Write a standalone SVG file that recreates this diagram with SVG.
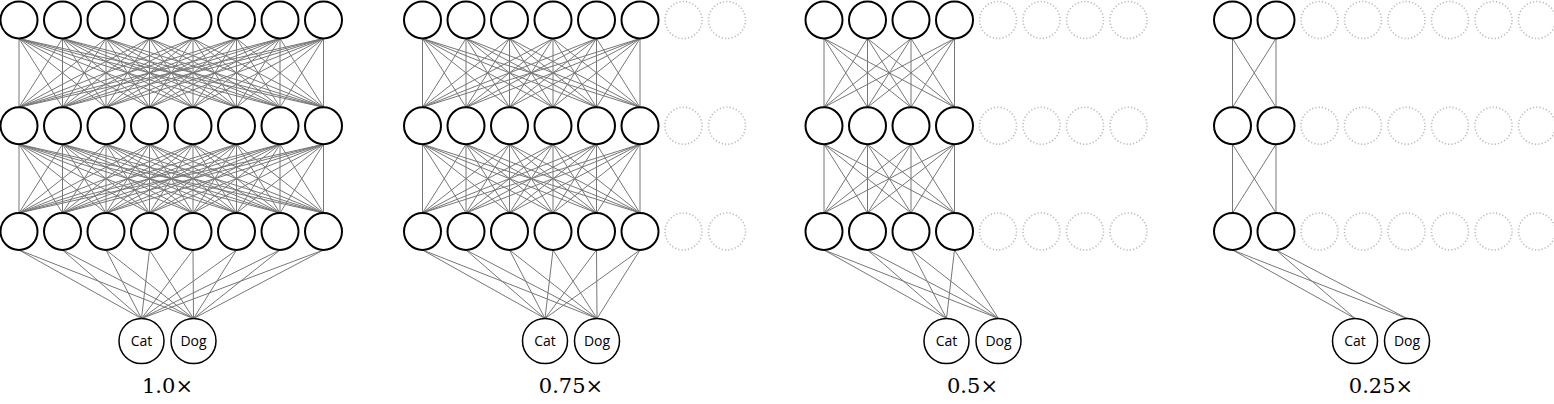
<svg xmlns="http://www.w3.org/2000/svg" xmlns:xlink="http://www.w3.org/1999/xlink" width="1554" height="404" viewBox="0 0 1554 404">
<style>
.n{fill:#fff;stroke:#000;stroke-width:2}
.o{fill:#fff;stroke:#000;stroke-width:1.5}
.d{fill:none;stroke:#bbb;stroke-width:1.6;stroke-dasharray:1.2 2.1}
line{stroke:#777;stroke-width:1}
.t{font-family:"Open Sans","Liberation Sans",sans-serif;font-size:14px;text-anchor:middle;fill:#000}
.l{font-family:"DejaVu Serif","Liberation Serif",serif;font-size:21px;text-anchor:middle;fill:#000}
</style>
<defs>
<g id="b1" stroke="#777" stroke-width="1">
<line x1="19" y1="38.5" x2="19" y2="107.25"/><line x1="19" y1="38.5" x2="62.5" y2="107.25"/><line x1="19" y1="38.5" x2="106" y2="107.25"/><line x1="19" y1="38.5" x2="149.5" y2="107.25"/><line x1="19" y1="38.5" x2="193" y2="107.25"/><line x1="19" y1="38.5" x2="236.5" y2="107.25"/><line x1="19" y1="38.5" x2="280" y2="107.25"/><line x1="19" y1="38.5" x2="323.5" y2="107.25"/>
<line x1="62.5" y1="38.5" x2="19" y2="107.25"/><line x1="62.5" y1="38.5" x2="62.5" y2="107.25"/><line x1="62.5" y1="38.5" x2="106" y2="107.25"/><line x1="62.5" y1="38.5" x2="149.5" y2="107.25"/><line x1="62.5" y1="38.5" x2="193" y2="107.25"/><line x1="62.5" y1="38.5" x2="236.5" y2="107.25"/><line x1="62.5" y1="38.5" x2="280" y2="107.25"/><line x1="62.5" y1="38.5" x2="323.5" y2="107.25"/>
<line x1="106" y1="38.5" x2="19" y2="107.25"/><line x1="106" y1="38.5" x2="62.5" y2="107.25"/><line x1="106" y1="38.5" x2="106" y2="107.25"/><line x1="106" y1="38.5" x2="149.5" y2="107.25"/><line x1="106" y1="38.5" x2="193" y2="107.25"/><line x1="106" y1="38.5" x2="236.5" y2="107.25"/><line x1="106" y1="38.5" x2="280" y2="107.25"/><line x1="106" y1="38.5" x2="323.5" y2="107.25"/>
<line x1="149.5" y1="38.5" x2="19" y2="107.25"/><line x1="149.5" y1="38.5" x2="62.5" y2="107.25"/><line x1="149.5" y1="38.5" x2="106" y2="107.25"/><line x1="149.5" y1="38.5" x2="149.5" y2="107.25"/><line x1="149.5" y1="38.5" x2="193" y2="107.25"/><line x1="149.5" y1="38.5" x2="236.5" y2="107.25"/><line x1="149.5" y1="38.5" x2="280" y2="107.25"/><line x1="149.5" y1="38.5" x2="323.5" y2="107.25"/>
<line x1="193" y1="38.5" x2="19" y2="107.25"/><line x1="193" y1="38.5" x2="62.5" y2="107.25"/><line x1="193" y1="38.5" x2="106" y2="107.25"/><line x1="193" y1="38.5" x2="149.5" y2="107.25"/><line x1="193" y1="38.5" x2="193" y2="107.25"/><line x1="193" y1="38.5" x2="236.5" y2="107.25"/><line x1="193" y1="38.5" x2="280" y2="107.25"/><line x1="193" y1="38.5" x2="323.5" y2="107.25"/>
<line x1="236.5" y1="38.5" x2="19" y2="107.25"/><line x1="236.5" y1="38.5" x2="62.5" y2="107.25"/><line x1="236.5" y1="38.5" x2="106" y2="107.25"/><line x1="236.5" y1="38.5" x2="149.5" y2="107.25"/><line x1="236.5" y1="38.5" x2="193" y2="107.25"/><line x1="236.5" y1="38.5" x2="236.5" y2="107.25"/><line x1="236.5" y1="38.5" x2="280" y2="107.25"/><line x1="236.5" y1="38.5" x2="323.5" y2="107.25"/>
<line x1="280" y1="38.5" x2="19" y2="107.25"/><line x1="280" y1="38.5" x2="62.5" y2="107.25"/><line x1="280" y1="38.5" x2="106" y2="107.25"/><line x1="280" y1="38.5" x2="149.5" y2="107.25"/><line x1="280" y1="38.5" x2="193" y2="107.25"/><line x1="280" y1="38.5" x2="236.5" y2="107.25"/><line x1="280" y1="38.5" x2="280" y2="107.25"/><line x1="280" y1="38.5" x2="323.5" y2="107.25"/>
<line x1="323.5" y1="38.5" x2="19" y2="107.25"/><line x1="323.5" y1="38.5" x2="62.5" y2="107.25"/><line x1="323.5" y1="38.5" x2="106" y2="107.25"/><line x1="323.5" y1="38.5" x2="149.5" y2="107.25"/><line x1="323.5" y1="38.5" x2="193" y2="107.25"/><line x1="323.5" y1="38.5" x2="236.5" y2="107.25"/><line x1="323.5" y1="38.5" x2="280" y2="107.25"/><line x1="323.5" y1="38.5" x2="323.5" y2="107.25"/>
</g>
<g id="b2" stroke="#777" stroke-width="1">
<line x1="422.5" y1="38.5" x2="422.5" y2="107.25"/><line x1="422.5" y1="38.5" x2="466" y2="107.25"/><line x1="422.5" y1="38.5" x2="509.5" y2="107.25"/><line x1="422.5" y1="38.5" x2="553" y2="107.25"/><line x1="422.5" y1="38.5" x2="596.5" y2="107.25"/><line x1="422.5" y1="38.5" x2="640" y2="107.25"/>
<line x1="466" y1="38.5" x2="422.5" y2="107.25"/><line x1="466" y1="38.5" x2="466" y2="107.25"/><line x1="466" y1="38.5" x2="509.5" y2="107.25"/><line x1="466" y1="38.5" x2="553" y2="107.25"/><line x1="466" y1="38.5" x2="596.5" y2="107.25"/><line x1="466" y1="38.5" x2="640" y2="107.25"/>
<line x1="509.5" y1="38.5" x2="422.5" y2="107.25"/><line x1="509.5" y1="38.5" x2="466" y2="107.25"/><line x1="509.5" y1="38.5" x2="509.5" y2="107.25"/><line x1="509.5" y1="38.5" x2="553" y2="107.25"/><line x1="509.5" y1="38.5" x2="596.5" y2="107.25"/><line x1="509.5" y1="38.5" x2="640" y2="107.25"/>
<line x1="553" y1="38.5" x2="422.5" y2="107.25"/><line x1="553" y1="38.5" x2="466" y2="107.25"/><line x1="553" y1="38.5" x2="509.5" y2="107.25"/><line x1="553" y1="38.5" x2="553" y2="107.25"/><line x1="553" y1="38.5" x2="596.5" y2="107.25"/><line x1="553" y1="38.5" x2="640" y2="107.25"/>
<line x1="596.5" y1="38.5" x2="422.5" y2="107.25"/><line x1="596.5" y1="38.5" x2="466" y2="107.25"/><line x1="596.5" y1="38.5" x2="509.5" y2="107.25"/><line x1="596.5" y1="38.5" x2="553" y2="107.25"/><line x1="596.5" y1="38.5" x2="596.5" y2="107.25"/><line x1="596.5" y1="38.5" x2="640" y2="107.25"/>
<line x1="640" y1="38.5" x2="422.5" y2="107.25"/><line x1="640" y1="38.5" x2="466" y2="107.25"/><line x1="640" y1="38.5" x2="509.5" y2="107.25"/><line x1="640" y1="38.5" x2="553" y2="107.25"/><line x1="640" y1="38.5" x2="596.5" y2="107.25"/><line x1="640" y1="38.5" x2="640" y2="107.25"/>
</g>
<g id="b3" stroke="#777" stroke-width="1">
<line x1="824" y1="38.5" x2="824" y2="107.25"/><line x1="824" y1="38.5" x2="867.5" y2="107.25"/><line x1="824" y1="38.5" x2="911" y2="107.25"/><line x1="824" y1="38.5" x2="954.5" y2="107.25"/>
<line x1="867.5" y1="38.5" x2="824" y2="107.25"/><line x1="867.5" y1="38.5" x2="867.5" y2="107.25"/><line x1="867.5" y1="38.5" x2="911" y2="107.25"/><line x1="867.5" y1="38.5" x2="954.5" y2="107.25"/>
<line x1="911" y1="38.5" x2="824" y2="107.25"/><line x1="911" y1="38.5" x2="867.5" y2="107.25"/><line x1="911" y1="38.5" x2="911" y2="107.25"/><line x1="911" y1="38.5" x2="954.5" y2="107.25"/>
<line x1="954.5" y1="38.5" x2="824" y2="107.25"/><line x1="954.5" y1="38.5" x2="867.5" y2="107.25"/><line x1="954.5" y1="38.5" x2="911" y2="107.25"/><line x1="954.5" y1="38.5" x2="954.5" y2="107.25"/>
</g>
<g id="b4" stroke="#777" stroke-width="1">
<line x1="1232.5" y1="38.5" x2="1232.5" y2="107.25"/><line x1="1232.5" y1="38.5" x2="1276" y2="107.25"/>
<line x1="1276" y1="38.5" x2="1232.5" y2="107.25"/><line x1="1276" y1="38.5" x2="1276" y2="107.25"/>
</g>
</defs>
<rect width="1554" height="404" fill="#fff"/>
<g id="connectors">
<use xlink:href="#b1"/><use xlink:href="#b1" transform="translate(0,105.75)"/>
<use xlink:href="#b2"/><use xlink:href="#b2" transform="translate(0,105.75)"/>
<use xlink:href="#b3"/><use xlink:href="#b3" transform="translate(0,105.75)"/>
<use xlink:href="#b4"/><use xlink:href="#b4" transform="translate(0,105.75)"/>
<line x1="19" y1="250" x2="141.5" y2="318.5"/><line x1="62.5" y1="250" x2="141.5" y2="318.5"/><line x1="106" y1="250" x2="141.5" y2="318.5"/><line x1="149.5" y1="250" x2="141.5" y2="318.5"/><line x1="193" y1="250" x2="141.5" y2="318.5"/><line x1="236.5" y1="250" x2="141.5" y2="318.5"/><line x1="280" y1="250" x2="141.5" y2="318.5"/><line x1="323.5" y1="250" x2="141.5" y2="318.5"/>
<line x1="19" y1="250" x2="193.5" y2="318.5"/><line x1="62.5" y1="250" x2="193.5" y2="318.5"/><line x1="106" y1="250" x2="193.5" y2="318.5"/><line x1="149.5" y1="250" x2="193.5" y2="318.5"/><line x1="193" y1="250" x2="193.5" y2="318.5"/><line x1="236.5" y1="250" x2="193.5" y2="318.5"/><line x1="280" y1="250" x2="193.5" y2="318.5"/><line x1="323.5" y1="250" x2="193.5" y2="318.5"/>
<line x1="422.5" y1="250" x2="545" y2="318.5"/><line x1="466" y1="250" x2="545" y2="318.5"/><line x1="509.5" y1="250" x2="545" y2="318.5"/><line x1="553" y1="250" x2="545" y2="318.5"/><line x1="596.5" y1="250" x2="545" y2="318.5"/><line x1="640" y1="250" x2="545" y2="318.5"/>
<line x1="422.5" y1="250" x2="597" y2="318.5"/><line x1="466" y1="250" x2="597" y2="318.5"/><line x1="509.5" y1="250" x2="597" y2="318.5"/><line x1="553" y1="250" x2="597" y2="318.5"/><line x1="596.5" y1="250" x2="597" y2="318.5"/><line x1="640" y1="250" x2="597" y2="318.5"/>
<line x1="824" y1="250" x2="946.5" y2="318.5"/><line x1="867.5" y1="250" x2="946.5" y2="318.5"/><line x1="911" y1="250" x2="946.5" y2="318.5"/><line x1="954.5" y1="250" x2="946.5" y2="318.5"/>
<line x1="824" y1="250" x2="998.5" y2="318.5"/><line x1="867.5" y1="250" x2="998.5" y2="318.5"/><line x1="911" y1="250" x2="998.5" y2="318.5"/><line x1="954.5" y1="250" x2="998.5" y2="318.5"/>
<line x1="1232.5" y1="250" x2="1355" y2="318.5"/><line x1="1276" y1="250" x2="1355" y2="318.5"/>
<line x1="1232.5" y1="250" x2="1407" y2="318.5"/><line x1="1276" y1="250" x2="1407" y2="318.5"/>
</g>
<g id="panel-1">
<g id="p1-l1-n1"><circle class="n" cx="19" cy="20" r="18.5"/></g><g id="p1-l1-n2"><circle class="n" cx="62.5" cy="20" r="18.5"/></g><g id="p1-l1-n3"><circle class="n" cx="106" cy="20" r="18.5"/></g><g id="p1-l1-n4"><circle class="n" cx="149.5" cy="20" r="18.5"/></g><g id="p1-l1-n5"><circle class="n" cx="193" cy="20" r="18.5"/></g><g id="p1-l1-n6"><circle class="n" cx="236.5" cy="20" r="18.5"/></g><g id="p1-l1-n7"><circle class="n" cx="280" cy="20" r="18.5"/></g><g id="p1-l1-n8"><circle class="n" cx="323.5" cy="20" r="18.5"/></g>
<g id="p1-l2-n1"><circle class="n" cx="19" cy="125.75" r="18.5"/></g><g id="p1-l2-n2"><circle class="n" cx="62.5" cy="125.75" r="18.5"/></g><g id="p1-l2-n3"><circle class="n" cx="106" cy="125.75" r="18.5"/></g><g id="p1-l2-n4"><circle class="n" cx="149.5" cy="125.75" r="18.5"/></g><g id="p1-l2-n5"><circle class="n" cx="193" cy="125.75" r="18.5"/></g><g id="p1-l2-n6"><circle class="n" cx="236.5" cy="125.75" r="18.5"/></g><g id="p1-l2-n7"><circle class="n" cx="280" cy="125.75" r="18.5"/></g><g id="p1-l2-n8"><circle class="n" cx="323.5" cy="125.75" r="18.5"/></g>
<g id="p1-l3-n1"><circle class="n" cx="19" cy="231.5" r="18.5"/></g><g id="p1-l3-n2"><circle class="n" cx="62.5" cy="231.5" r="18.5"/></g><g id="p1-l3-n3"><circle class="n" cx="106" cy="231.5" r="18.5"/></g><g id="p1-l3-n4"><circle class="n" cx="149.5" cy="231.5" r="18.5"/></g><g id="p1-l3-n5"><circle class="n" cx="193" cy="231.5" r="18.5"/></g><g id="p1-l3-n6"><circle class="n" cx="236.5" cy="231.5" r="18.5"/></g><g id="p1-l3-n7"><circle class="n" cx="280" cy="231.5" r="18.5"/></g><g id="p1-l3-n8"><circle class="n" cx="323.5" cy="231.5" r="18.5"/></g>
<g id="p1-cat"><circle class="o" cx="141.5" cy="341" r="22.5"/><text class="t" x="141.5" y="346">Cat</text></g>
<g id="p1-dog"><circle class="o" cx="193.5" cy="341" r="22.5"/><text class="t" x="193.5" y="346">Dog</text></g>
<text class="l" x="167.5" y="393">1.0×</text>
</g>
<g id="panel-2">
<g id="p2-l1-n1"><circle class="n" cx="422.5" cy="20" r="18.5"/></g><g id="p2-l1-n2"><circle class="n" cx="466" cy="20" r="18.5"/></g><g id="p2-l1-n3"><circle class="n" cx="509.5" cy="20" r="18.5"/></g><g id="p2-l1-n4"><circle class="n" cx="553" cy="20" r="18.5"/></g><g id="p2-l1-n5"><circle class="n" cx="596.5" cy="20" r="18.5"/></g><g id="p2-l1-n6"><circle class="n" cx="640" cy="20" r="18.5"/></g><g id="p2-l1-n7"><circle class="d" cx="683.5" cy="20" r="18.5"/></g><g id="p2-l1-n8"><circle class="d" cx="727" cy="20" r="18.5"/></g>
<g id="p2-l2-n1"><circle class="n" cx="422.5" cy="125.75" r="18.5"/></g><g id="p2-l2-n2"><circle class="n" cx="466" cy="125.75" r="18.5"/></g><g id="p2-l2-n3"><circle class="n" cx="509.5" cy="125.75" r="18.5"/></g><g id="p2-l2-n4"><circle class="n" cx="553" cy="125.75" r="18.5"/></g><g id="p2-l2-n5"><circle class="n" cx="596.5" cy="125.75" r="18.5"/></g><g id="p2-l2-n6"><circle class="n" cx="640" cy="125.75" r="18.5"/></g><g id="p2-l2-n7"><circle class="d" cx="683.5" cy="125.75" r="18.5"/></g><g id="p2-l2-n8"><circle class="d" cx="727" cy="125.75" r="18.5"/></g>
<g id="p2-l3-n1"><circle class="n" cx="422.5" cy="231.5" r="18.5"/></g><g id="p2-l3-n2"><circle class="n" cx="466" cy="231.5" r="18.5"/></g><g id="p2-l3-n3"><circle class="n" cx="509.5" cy="231.5" r="18.5"/></g><g id="p2-l3-n4"><circle class="n" cx="553" cy="231.5" r="18.5"/></g><g id="p2-l3-n5"><circle class="n" cx="596.5" cy="231.5" r="18.5"/></g><g id="p2-l3-n6"><circle class="n" cx="640" cy="231.5" r="18.5"/></g><g id="p2-l3-n7"><circle class="d" cx="683.5" cy="231.5" r="18.5"/></g><g id="p2-l3-n8"><circle class="d" cx="727" cy="231.5" r="18.5"/></g>
<g id="p2-cat"><circle class="o" cx="545" cy="341" r="22.5"/><text class="t" x="545" y="346">Cat</text></g>
<g id="p2-dog"><circle class="o" cx="597" cy="341" r="22.5"/><text class="t" x="597" y="346">Dog</text></g>
<text class="l" x="571" y="393">0.75×</text>
</g>
<g id="panel-3">
<g id="p3-l1-n1"><circle class="n" cx="824" cy="20" r="18.5"/></g><g id="p3-l1-n2"><circle class="n" cx="867.5" cy="20" r="18.5"/></g><g id="p3-l1-n3"><circle class="n" cx="911" cy="20" r="18.5"/></g><g id="p3-l1-n4"><circle class="n" cx="954.5" cy="20" r="18.5"/></g><g id="p3-l1-n5"><circle class="d" cx="998" cy="20" r="18.5"/></g><g id="p3-l1-n6"><circle class="d" cx="1041.5" cy="20" r="18.5"/></g><g id="p3-l1-n7"><circle class="d" cx="1085" cy="20" r="18.5"/></g><g id="p3-l1-n8"><circle class="d" cx="1128.5" cy="20" r="18.5"/></g>
<g id="p3-l2-n1"><circle class="n" cx="824" cy="125.75" r="18.5"/></g><g id="p3-l2-n2"><circle class="n" cx="867.5" cy="125.75" r="18.5"/></g><g id="p3-l2-n3"><circle class="n" cx="911" cy="125.75" r="18.5"/></g><g id="p3-l2-n4"><circle class="n" cx="954.5" cy="125.75" r="18.5"/></g><g id="p3-l2-n5"><circle class="d" cx="998" cy="125.75" r="18.5"/></g><g id="p3-l2-n6"><circle class="d" cx="1041.5" cy="125.75" r="18.5"/></g><g id="p3-l2-n7"><circle class="d" cx="1085" cy="125.75" r="18.5"/></g><g id="p3-l2-n8"><circle class="d" cx="1128.5" cy="125.75" r="18.5"/></g>
<g id="p3-l3-n1"><circle class="n" cx="824" cy="231.5" r="18.5"/></g><g id="p3-l3-n2"><circle class="n" cx="867.5" cy="231.5" r="18.5"/></g><g id="p3-l3-n3"><circle class="n" cx="911" cy="231.5" r="18.5"/></g><g id="p3-l3-n4"><circle class="n" cx="954.5" cy="231.5" r="18.5"/></g><g id="p3-l3-n5"><circle class="d" cx="998" cy="231.5" r="18.5"/></g><g id="p3-l3-n6"><circle class="d" cx="1041.5" cy="231.5" r="18.5"/></g><g id="p3-l3-n7"><circle class="d" cx="1085" cy="231.5" r="18.5"/></g><g id="p3-l3-n8"><circle class="d" cx="1128.5" cy="231.5" r="18.5"/></g>
<g id="p3-cat"><circle class="o" cx="946.5" cy="341" r="22.5"/><text class="t" x="946.5" y="346">Cat</text></g>
<g id="p3-dog"><circle class="o" cx="998.5" cy="341" r="22.5"/><text class="t" x="998.5" y="346">Dog</text></g>
<text class="l" x="972.5" y="393">0.5×</text>
</g>
<g id="panel-4">
<g id="p4-l1-n1"><circle class="n" cx="1232.5" cy="20" r="18.5"/></g><g id="p4-l1-n2"><circle class="n" cx="1276" cy="20" r="18.5"/></g><g id="p4-l1-n3"><circle class="d" cx="1319.5" cy="20" r="18.5"/></g><g id="p4-l1-n4"><circle class="d" cx="1363" cy="20" r="18.5"/></g><g id="p4-l1-n5"><circle class="d" cx="1406.5" cy="20" r="18.5"/></g><g id="p4-l1-n6"><circle class="d" cx="1450" cy="20" r="18.5"/></g><g id="p4-l1-n7"><circle class="d" cx="1493.5" cy="20" r="18.5"/></g><g id="p4-l1-n8"><circle class="d" cx="1537" cy="20" r="18.5"/></g>
<g id="p4-l2-n1"><circle class="n" cx="1232.5" cy="125.75" r="18.5"/></g><g id="p4-l2-n2"><circle class="n" cx="1276" cy="125.75" r="18.5"/></g><g id="p4-l2-n3"><circle class="d" cx="1319.5" cy="125.75" r="18.5"/></g><g id="p4-l2-n4"><circle class="d" cx="1363" cy="125.75" r="18.5"/></g><g id="p4-l2-n5"><circle class="d" cx="1406.5" cy="125.75" r="18.5"/></g><g id="p4-l2-n6"><circle class="d" cx="1450" cy="125.75" r="18.5"/></g><g id="p4-l2-n7"><circle class="d" cx="1493.5" cy="125.75" r="18.5"/></g><g id="p4-l2-n8"><circle class="d" cx="1537" cy="125.75" r="18.5"/></g>
<g id="p4-l3-n1"><circle class="n" cx="1232.5" cy="231.5" r="18.5"/></g><g id="p4-l3-n2"><circle class="n" cx="1276" cy="231.5" r="18.5"/></g><g id="p4-l3-n3"><circle class="d" cx="1319.5" cy="231.5" r="18.5"/></g><g id="p4-l3-n4"><circle class="d" cx="1363" cy="231.5" r="18.5"/></g><g id="p4-l3-n5"><circle class="d" cx="1406.5" cy="231.5" r="18.5"/></g><g id="p4-l3-n6"><circle class="d" cx="1450" cy="231.5" r="18.5"/></g><g id="p4-l3-n7"><circle class="d" cx="1493.5" cy="231.5" r="18.5"/></g><g id="p4-l3-n8"><circle class="d" cx="1537" cy="231.5" r="18.5"/></g>
<g id="p4-cat"><circle class="o" cx="1355" cy="341" r="22.5"/><text class="t" x="1355" y="346">Cat</text></g>
<g id="p4-dog"><circle class="o" cx="1407" cy="341" r="22.5"/><text class="t" x="1407" y="346">Dog</text></g>
<text class="l" x="1381" y="393">0.25×</text>
</g>
</svg>
